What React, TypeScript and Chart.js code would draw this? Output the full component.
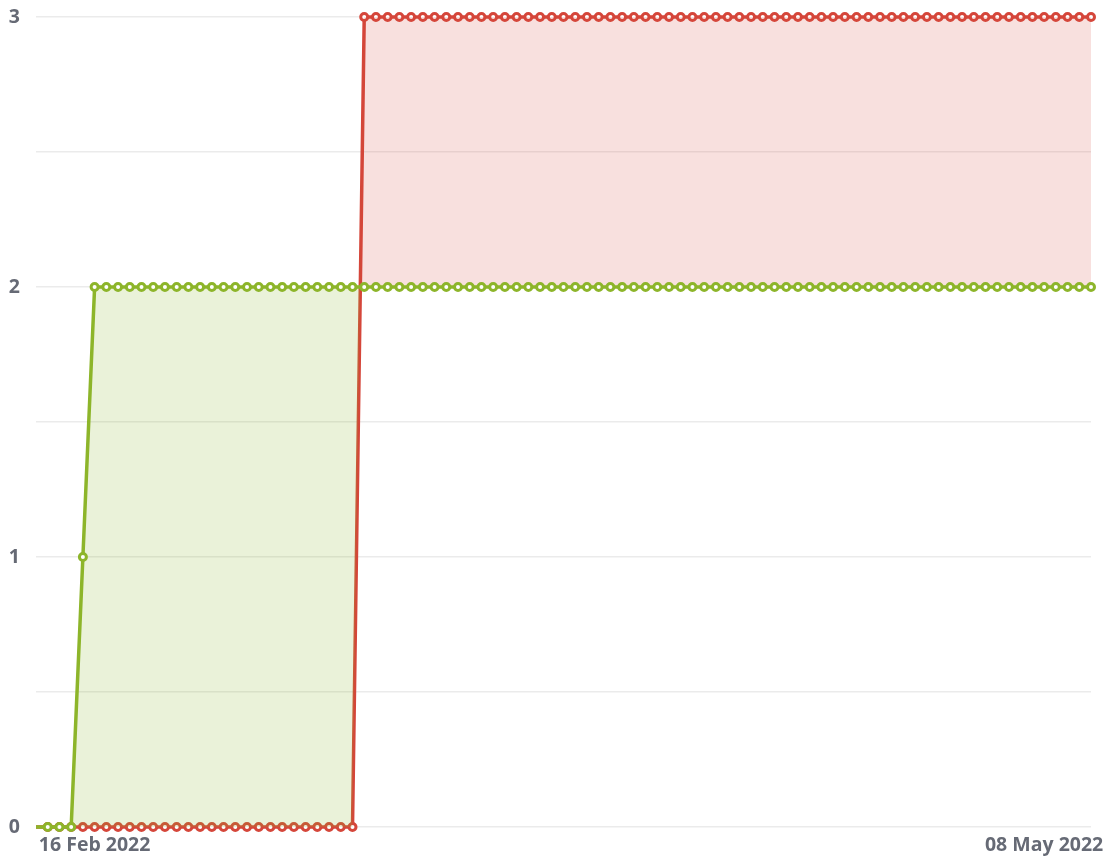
import React, { useEffect, useRef } from "react";
import { Chart, registerables } from "chart.js";

Chart.register(...registerables);

// Daily categories: 11 Feb 2022 .. 12 May 2022 (91 days)
const MONTH_SPANS: [string, number, number][] = [
  ["Feb", 11, 28],
  ["Mar", 1, 31],
  ["Apr", 1, 30],
  ["May", 1, 12],
];
const pad2 = (n: number) => (n < 10 ? "0" + n : "" + n);
const DATES: string[] = [];
for (const [m, a, b] of MONTH_SPANS) {
  for (let d = a; d <= b; d++) DATES.push(`${pad2(d)} ${m} 2022`);
}

const X_TICK_LABELS = ["16 Feb 2022", "08 May 2022"];
const Y_TICK_LABELS = [0, 1, 2, 3];

const GREEN_SERIES = [
  0, 0, 0, 0, 1, 2, 2, 2, 2, 2,
  2, 2, 2, 2, 2, 2, 2, 2, 2, 2,
  2, 2, 2, 2, 2, 2, 2, 2, 2, 2,
  2, 2, 2, 2, 2, 2, 2, 2, 2, 2,
  2, 2, 2, 2, 2, 2, 2, 2, 2, 2,
  2, 2, 2, 2, 2, 2, 2, 2, 2, 2,
  2, 2, 2, 2, 2, 2, 2, 2, 2, 2,
  2, 2, 2, 2, 2, 2, 2, 2, 2, 2,
  2, 2, 2, 2, 2, 2, 2, 2, 2, 2,
  2,
];

const RED_SERIES = [
  0, 0, 0, 0, 0, 0, 0, 0, 0, 0,
  0, 0, 0, 0, 0, 0, 0, 0, 0, 0,
  0, 0, 0, 0, 0, 0, 0, 0, 3, 3,
  3, 3, 3, 3, 3, 3, 3, 3, 3, 3,
  3, 3, 3, 3, 3, 3, 3, 3, 3, 3,
  3, 3, 3, 3, 3, 3, 3, 3, 3, 3,
  3, 3, 3, 3, 3, 3, 3, 3, 3, 3,
  3, 3, 3, 3, 3, 3, 3, 3, 3, 3,
  3, 3, 3, 3, 3, 3, 3, 3, 3, 3,
  3,
];

const GREEN = "#8db52a";
const RED = "#d5463a";
const GREEN_FILL = "rgba(141, 181, 42, 0.18)";
const RED_FILL = "rgba(213, 70, 58, 0.17)";
const TICK_COLOR = "#666a75";
const FONT = { family: "'Open Sans', sans-serif", size: 19.5, weight: "bold" as const };

export default function App() {
  const ref = useRef<HTMLCanvasElement | null>(null);

  useEffect(() => {
    document.body.style.margin = "0";
    if (!ref.current) return;
    const tickIdx = X_TICK_LABELS.map((l) => DATES.indexOf(l));
    const chart = new Chart(ref.current, {
      type: "line",
      data: {
        labels: DATES,
        datasets: [
          {
            label: "Green",
            data: GREEN_SERIES,
            borderColor: GREEN,
            borderWidth: 3.5,
            pointBorderColor: GREEN,
            pointBackgroundColor: "#ffffff",
            pointBorderWidth: 3,
            pointRadius: (c: any) => (c.dataIndex === 0 ? 0 : 3.5),
            fill: { target: 1, above: GREEN_FILL, below: RED_FILL },
            tension: 0,
            clip: false as any,
          },
          {
            label: "Red",
            data: RED_SERIES,
            borderColor: RED,
            borderWidth: 3.5,
            pointBorderColor: RED,
            pointBackgroundColor: "#ffffff",
            pointBorderWidth: 3,
            pointRadius: (c: any) => (c.dataIndex === 0 ? 0 : 3.5),
            fill: false,
            tension: 0,
            clip: false as any,
          },
        ],
      },
      options: {
        animation: false,
        responsive: false,
        maintainAspectRatio: false,
        layout: { padding: { top: 17, right: 15, left: 0, bottom: 0 } },
        plugins: { legend: { display: false }, tooltip: { enabled: false } },
        scales: {
          x: {
            grid: { display: false, drawTicks: false },
            border: { display: false },
            afterBuildTicks: (s: any) => {
              s.ticks = tickIdx.map((v) => ({ value: v }));
            },
            afterFit: (s: any) => {
              s.height = 40;
              s.paddingLeft = 0;
              s.paddingRight = 0;
            },
            ticks: {
              autoSkip: false,
              maxRotation: 0,
              padding: 7,
              color: TICK_COLOR,
              font: FONT,
              callback: (v: any) => DATES[v as number],
            },
          },
          y: {
            min: 0,
            max: 3,
            grid: { color: "#ebebeb", lineWidth: 1.5, drawTicks: false },
            border: { display: false },
            afterFit: (s: any) => {
              s.width = 36;
              s.paddingTop = 0;
              s.paddingBottom = 0;
            },
            ticks: {
              stepSize: 0.5,
              padding: 16,
              color: TICK_COLOR,
              font: FONT,
              callback: (v: any) =>
                Y_TICK_LABELS.includes(v as number) ? String(v) : "",
            },
          },
        },
      },
    });
    return () => chart.destroy();
  }, []);

  return (
    <div style={{ position: "absolute", left: 0, top: 0, width: 1106, height: 867 }}>
      <canvas ref={ref} width={1106} height={867} style={{ width: 1106, height: 867 }} />
    </div>
  );
}
